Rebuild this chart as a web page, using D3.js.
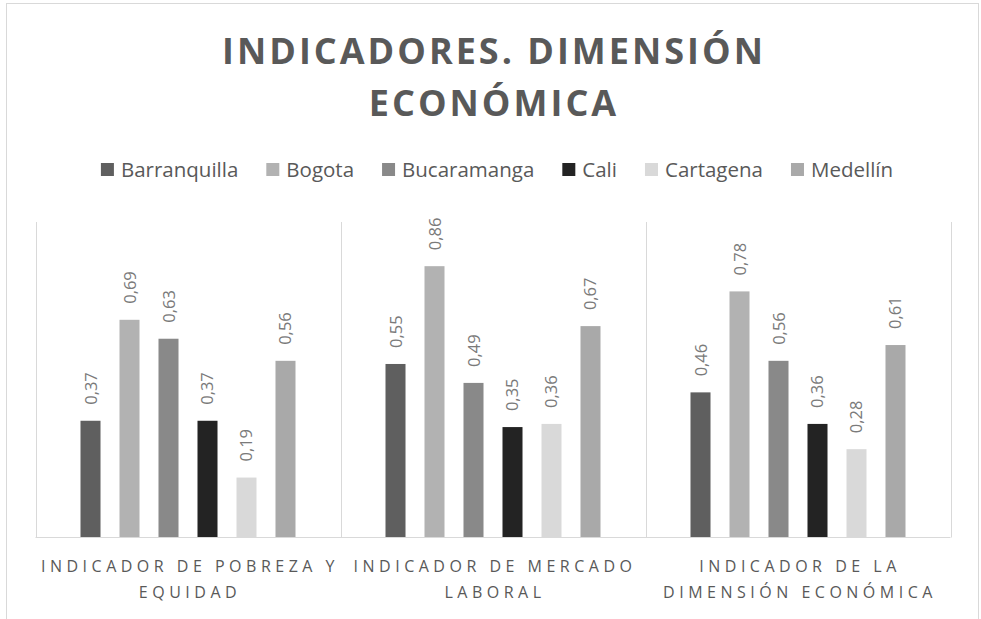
<!DOCTYPE html>
<html>
<head>
<meta charset="UTF-8">
<title>Indicadores. Dimensión económica</title>
<script src="https://cdn.jsdelivr.net/npm/d3@7"></script>
<style>
  body { margin: 0; background: #fff; }
  svg text { font-family: "Open Sans", sans-serif; }
</style>
</head>
<body>
<script>
// ---- data ----
var categories = ["Indicador de pobreza y equidad", "Indicador de mercado laboral", "Indicador de la dimensión económica"];
var categoryLines = [["INDICADOR DE POBREZA Y", "EQUIDAD"], ["INDICADOR DE MERCADO", "LABORAL"], ["INDICADOR DE LA", "DIMENSIÓN ECONÓMICA"]];
var cities = ["Barranquilla", "Bogota", "Bucaramanga", "Cali", "Cartagena", "Medellín"];
var colors = ["#5f5f5f", "#b2b2b2", "#898989", "#232323", "#d9d9d9", "#a9a9a9"];
var pobreza = [0.37, 0.69, 0.63, 0.37, 0.19, 0.56];
var mercado = [0.55, 0.86, 0.49, 0.35, 0.36, 0.67];
var dimension = [0.46, 0.78, 0.56, 0.36, 0.28, 0.61];
var values = [pobreza, mercado, dimension];

var W = 981, H = 619;
var plot = {left: 35.5, right: 950.5, top: 222, bottom: 537.5};

var svg = d3.select("body").append("svg")
    .attr("width", W)
    .attr("height", H);

// chart border
svg.append("rect")
    .attr("x", 6.5).attr("y", 3.5)
    .attr("width", 972).attr("height", 630)
    .attr("fill", "none")
    .attr("stroke", "#d9d9d9");

// title
var title = svg.append("text")
    .attr("text-anchor", "middle")
    .attr("fill", "#595959")
    .style("font-size", "36px")
    .style("font-weight", "bold")
    .style("letter-spacing", "3px");
title.append("tspan").attr("x", 494).attr("y", 64).text("INDICADORES. DIMENSIÓN");
title.append("tspan").attr("x", 494).attr("y", 116).text("ECONÓMICA");

// scales
var x0 = d3.scaleBand().domain(d3.range(categories.length)).range([plot.left, plot.right]);
var x1 = d3.scaleBand().domain(d3.range(cities.length))
    .range([45, x0.bandwidth() - 45])
    .paddingInner(0.487);
var y = d3.scaleLinear().domain([0, 1]).range([plot.bottom, plot.top]);

// vertical category separators + baseline
var seps = d3.range(categories.length + 1).map(function(i) {
    return i < categories.length ? x0(i) : plot.right;
});
svg.selectAll(".sep").data(seps).enter().append("line")
    .attr("class", "sep")
    .attr("x1", function(d) { return Math.round(d) + 0.5; })
    .attr("x2", function(d) { return Math.round(d) + 0.5; })
    .attr("y1", plot.top).attr("y2", plot.bottom)
    .attr("stroke", "#d9d9d9");
svg.append("line")
    .attr("x1", plot.left).attr("x2", plot.right)
    .attr("y1", plot.bottom).attr("y2", plot.bottom)
    .attr("stroke", "#d9d9d9");

// bars
var groups = svg.selectAll(".grp").data(values).enter().append("g")
    .attr("class", "grp")
    .attr("transform", function(d, i) { return "translate(" + x0(i) + ",0)"; });

groups.selectAll("rect").data(function(d) { return d; }).enter().append("rect")
    .attr("x", function(d, j) { return x1(j); })
    .attr("y", function(d) { return y(d); })
    .attr("width", x1.bandwidth())
    .attr("height", function(d) { return plot.bottom - 0.5 - y(d); })
    .attr("fill", function(d, j) { return colors[j]; });

// data labels (rotated)
groups.selectAll(".lbl").data(function(d) { return d; }).enter().append("text")
    .attr("class", "lbl")
    .attr("transform", function(d, j) {
        var cx = x1(j) + x1.bandwidth() / 2 + 6;
        return "translate(" + cx + "," + (y(d) - 16) + ") rotate(-90)";
    })
    .attr("fill", "#7a7a7a")
    .style("font-size", "16.5px")
    .text(function(d) { return d.toFixed(2).replace(".", ","); });

// category labels
var catText = svg.selectAll(".cat").data(categoryLines).enter().append("text")
    .attr("class", "cat")
    .attr("text-anchor", "middle")
    .attr("fill", "#595959")
    .style("font-size", "16px")
    .style("letter-spacing", "4.5px");
catText.selectAll("tspan").data(function(d, i) { return d.map(function(s) { return {s: s, i: i}; }); })
    .enter().append("tspan")
    .attr("x", function(d) { return x0(d.i) + x0.bandwidth() / 2 + 2; })
    .attr("y", function(d, k) { return 572 + k * 25.5; })
    .text(function(d) { return d.s; });

// legend
var legend = svg.append("g");
var items = legend.selectAll(".leg").data(cities).enter().append("g").attr("class", "leg");
items.append("rect")
    .attr("y", 163).attr("width", 13).attr("height", 13)
    .attr("fill", function(d, i) { return colors[i]; });
items.append("text")
    .attr("x", 20).attr("y", 177)
    .attr("fill", "#595959")
    .style("font-size", "20.5px")
    .text(function(d) { return d; });
var pos = 0, offs = [];
items.each(function() {
    offs.push(pos);
    pos += 20 + this.querySelector("text").getComputedTextLength() + 28;
});
pos -= 28;
var start = 497 - pos / 2;
items.attr("transform", function(d, i) { return "translate(" + (start + offs[i]) + ",0)"; });
</script>
</body>
</html>
